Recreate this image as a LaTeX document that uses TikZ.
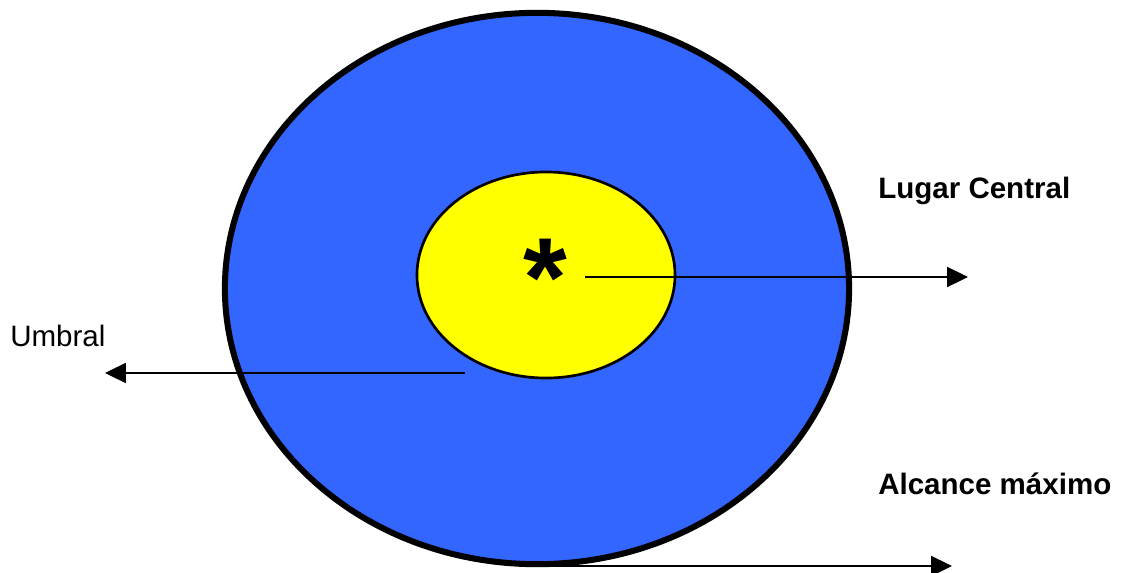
\documentclass[tikz,border=0pt]{standalone}
\usepackage{fontspec}
\setmainfont{Liberation Sans}
\usetikzlibrary{positioning,arrows.meta,shapes.geometric}
\definecolor{zoneblue}{RGB}{51,102,255}
\definecolor{coreyellow}{RGB}{255,255,0}
\tikzset{
  zone/.style={ellipse,draw=black,line width=4.3pt,fill=zoneblue,inner sep=0pt,minimum width=15.6cm,minimum height=13.78cm},
  core/.style={ellipse,draw=black,line width=1.9pt,fill=coreyellow,inner sep=0pt,minimum width=6.45cm,minimum height=5.15cm},
  tag/.style={font=\fontsize{21}{25}\selectfont,inner sep=0pt,anchor=base west},
  reach/.style={-{Triangle[length=5.2mm,width=5mm]},line width=1.1pt}
}

\begin{document}
\begin{tikzpicture}[x=0.025cm,y=-0.025cm]
  \useasboundingbox (0,0) rectangle (1133,573);
  \coordinate (maxfrom) at (540,566);
  \coordinate (maxto) at (952,566);
  \draw[reach] (maxfrom) -- (maxto);
  \node[zone] (area) at (537,288.5) {};
  \node[core] (place) at (546,275) {};
  \node[font=\fontsize{80}{80}\bfseries\selectfont,inner sep=0pt,anchor=base] (star) at (545,316) {*};
  \coordinate (centfrom) at (585,277);
  \coordinate (centto) at (968,277);
  \coordinate (umbfrom) at (465,373);
  \coordinate (umbto) at (105,373);
  \draw[reach] (centfrom) -- (centto);
  \draw[reach] (umbfrom) -- (umbto);
  \node[tag] (central) at (878,198) {\textbf{Lugar Central}};
  \node[tag] (umbral) at (10,346) {Umbral};
  \node[tag] (alcance) at (878,494) {\textbf{Alcance máximo}};
\end{tikzpicture}
\end{document}
